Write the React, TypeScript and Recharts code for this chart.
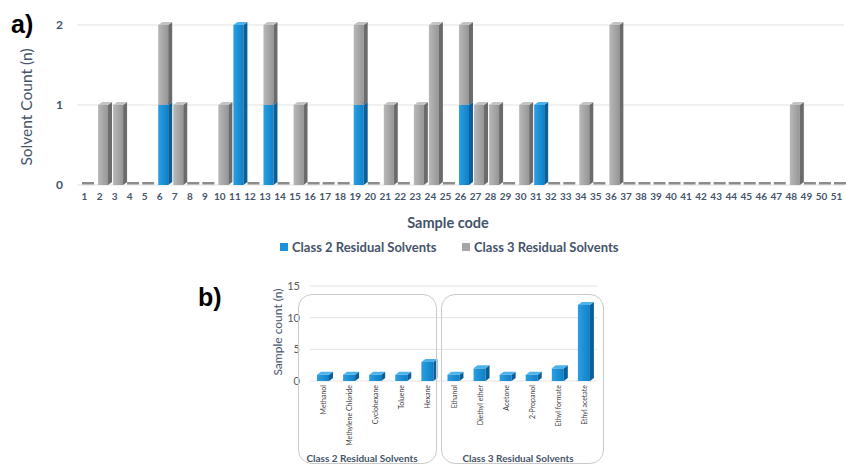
import React from 'react'
import { Bar, BarChart, CartesianGrid, XAxis, YAxis } from 'recharts'

// a) per-sample solvent counts
const sampleCodes = [
    1, 2, 3, 4, 5, 6, 7, 8, 9, 10, 11, 12, 13, 14, 15, 16, 17, 18, 19, 20, 21, 22, 23, 24, 25,
    26, 27, 28, 29, 30, 31, 32, 33, 34, 35, 36, 37, 38, 39, 40, 41, 42, 43, 44, 45, 46, 47, 48,
    49, 50, 51,
]
const class2Counts = [
    0, 0, 0, 0, 0, 1, 0, 0, 0, 0, 2, 0, 1, 0, 0, 0, 0, 0, 1, 0, 0, 0, 0, 0, 0,
    1, 0, 0, 0, 0, 1, 0, 0, 0, 0, 0, 0, 0, 0, 0, 0, 0, 0, 0, 0, 0, 0, 0,
    0, 0, 0,
]
const class3Counts = [
    0, 1, 1, 0, 0, 1, 1, 0, 0, 1, 0, 0, 1, 0, 1, 0, 0, 0, 1, 0, 1, 0, 1, 2, 0,
    1, 1, 1, 0, 1, 0, 0, 0, 1, 0, 2, 0, 0, 0, 0, 0, 0, 0, 0, 0, 0, 0, 1,
    0, 0, 0,
]
const solventTicks = [0, 1, 2]
const seriesNames = ['Class 2 Residual Solvents', 'Class 3 Residual Solvents']

// b) sample count per solvent
const solventNames = [
    'Methanol', 'Methylene Chloride', 'Cyclohexane', 'Toluene', 'Hexane',
    'Ethanol', 'Diethyl ether', 'Acetone', '2-Propanol', 'Ethyl formate', 'Ethyl acetate',
]
const solventSampleCounts = [1, 1, 1, 1, 3, 1, 2, 1, 1, 2, 12]
const countTicks = [0, 5, 10, 15]

const FONT = 'Lato, "Open Sans", sans-serif'
const SLATE = '#44546a'

const sampleData = sampleCodes.map((code, i) => ({
    code: String(code),
    class2: class2Counts[i],
    class3: class3Counts[i],
}))
const solventData = solventNames.map((name, i) => ({ name, count: solventSampleCounts[i] }))

function Bar3D(props: any) {
    const { x, y, width, height, grad, side, top, shift = 0 } = props
    if (!height || height <= 0) return null
    const d = 4
    const rise = 3
    const x0 = x + shift
    const x1 = x0 + width
    return (
        <g>
            <rect x={x0} y={y} width={width} height={height} fill={`url(#${grad})`} />
            <polygon
                points={`${x1},${y} ${x1 + d},${y - rise} ${x1 + d},${y + height - rise} ${x1},${y + height}`}
                fill={side}
            />
            <polygon
                points={`${x0},${y} ${x0 + d},${y - rise} ${x1 + d},${y - rise} ${x1},${y}`}
                fill={top}
            />
        </g>
    )
}

// empty samples still show a flat stub on the floor
function Class3Shape(props: any) {
    const { x, y, width, height, payload } = props
    if ((!height || height <= 0) && payload && payload.class2 === 0 && payload.class3 === 0) {
        return <rect x={x + 2} y={y - 3} width={width + 2} height={2.5} fill="#8c8c8c" />
    }
    return <Bar3D {...props} grad="grayFront" side="#6b6b6b" top="#c4c4c4" shift={3} />
}

function SolventTick(props: any) {
    const { x, y, payload } = props
    const ty = y - 4
    return (
        <text
            x={x}
            y={ty}
            transform={`rotate(-90 ${x} ${ty})`}
            textAnchor="end"
            dominantBaseline="central"
            fontSize={7}
            fill="#404040"
            fontFamily={FONT}
        >
            {payload.value}
        </text>
    )
}

const abs = (left: number, top: number, extra: React.CSSProperties = {}): React.CSSProperties => ({
    position: 'absolute',
    left,
    top,
    fontFamily: FONT,
    whiteSpace: 'nowrap',
    pointerEvents: 'none',
    ...extra,
})

export default function App() {
    return (
        <div style={{ position: 'absolute', left: 0, top: 0, width: 847, height: 465, background: '#fff', overflow: 'hidden' }}>
            <div style={{ position: 'absolute', left: 0, top: 0 }}>
                <BarChart width={847} height={260} data={sampleData} margin={{ top: 25, right: 3, left: 0, bottom: 30 }} barSize={10}>
                    <defs>
                        <linearGradient id="grayFront" x1="0" y1="0" x2="1" y2="0">
                            <stop offset="0%" stopColor="#b8b8b8" />
                            <stop offset="100%" stopColor="#969696" />
                        </linearGradient>
                        <linearGradient id="blueFront" x1="0" y1="0" x2="1" y2="0">
                            <stop offset="0%" stopColor="#2c9fe2" />
                            <stop offset="100%" stopColor="#0e80c8" />
                        </linearGradient>
                    </defs>
                    <CartesianGrid vertical={false} stroke="#e3e3e3" />
                    <XAxis
                        dataKey="code"
                        interval={0}
                        height={45}
                        tickLine={false}
                        axisLine={false}
                        tick={{ fontSize: 10, fontWeight: 700, fill: SLATE, fontFamily: FONT }}
                    />
                    <YAxis
                        width={77}
                        domain={[0, 2]}
                        ticks={solventTicks}
                        tickLine={false}
                        axisLine={false}
                        tickMargin={8}
                        tick={{ fontSize: 12, fontWeight: 700, fill: SLATE, fontFamily: FONT }}
                    />
                    <Bar
                        dataKey="class2"
                        name={seriesNames[0]}
                        stackId="s"
                        isAnimationActive={false}
                        shape={(p: any) => <Bar3D {...p} grad="blueFront" side="#0a5f98" top="#4cb2ec" shift={3} />}
                    />
                    <Bar
                        dataKey="class3"
                        name={seriesNames[1]}
                        stackId="s"
                        isAnimationActive={false}
                        shape={(p: any) => <Class3Shape {...p} />}
                    />
                </BarChart>
            </div>

            <div style={{ position: 'absolute', left: 0, top: 270 }}>
                <BarChart width={847} height={195} data={solventData} margin={{ top: 16, right: 250, left: 270, bottom: 0 }} barSize={12}>
                    <defs>
                        <linearGradient id="blueFront2" x1="0" y1="0" x2="1" y2="0">
                            <stop offset="0%" stopColor="#2c9fe2" />
                            <stop offset="100%" stopColor="#0e80c8" />
                        </linearGradient>
                    </defs>
                    <CartesianGrid vertical={false} stroke="#e3e3e3" />
                    <XAxis dataKey="name" interval={0} height={84} tickLine={false} axisLine={false} tick={<SolventTick />} />
                    <YAxis
                        width={40}
                        domain={[0, 15]}
                        ticks={countTicks}
                        tickLine={false}
                        axisLine={false}
                        tickMargin={4}
                        tick={{ fontSize: 11, fill: '#595959', fontFamily: FONT }}
                    />
                    <Bar
                        dataKey="count"
                        isAnimationActive={false}
                        shape={(p: any) => <Bar3D {...p} grad="blueFront2" side="#0a5f98" top="#4cb2ec" shift={0} />}
                    />
                </BarChart>
            </div>

            {/* panel labels and titles */}
            <div style={abs(11, 10, { fontSize: 25, fontWeight: 700, color: '#000', fontFamily: 'Arial, "Liberation Sans", sans-serif' })}>a)</div>
            <div style={abs(198, 283, { fontSize: 25, fontWeight: 700, color: '#000', fontFamily: 'Arial, "Liberation Sans", sans-serif' })}>b)</div>

            <div style={abs(26, 107, { fontSize: 15.5, color: SLATE, transform: 'translate(-50%, -50%) rotate(-90deg)' })}>Solvent Count (n)</div>
            <div style={abs(448, 222, { fontSize: 14.5, fontWeight: 700, color: SLATE, transform: 'translate(-50%, -50%)' })}>Sample code</div>

            {/* legend */}
            <div style={abs(280, 243, { width: 8, height: 8, background: '#1e90d9' })} />
            <div style={abs(292, 247, { fontSize: 13, fontWeight: 700, color: SLATE, transform: 'translateY(-50%)' })}>{seriesNames[0]}</div>
            <div style={abs(462, 243, { width: 8, height: 8, background: '#a6a6a6' })} />
            <div style={abs(474, 247, { fontSize: 13, fontWeight: 700, color: SLATE, transform: 'translateY(-50%)' })}>{seriesNames[1]}</div>

            <div style={abs(277, 332, { fontSize: 12, color: SLATE, transform: 'translate(-50%, -50%) rotate(-90deg)' })}>Sample count (n)</div>

            {/* solvent class groups */}
            <div style={abs(298, 294, { width: 139, height: 170, border: '1px solid #cacaca', borderRadius: 14, boxSizing: 'border-box' })} />
            <div style={abs(441, 294, { width: 163, height: 170, border: '1px solid #cacaca', borderRadius: 14, boxSizing: 'border-box' })} />
            <div style={abs(362, 458, { fontSize: 10, fontWeight: 700, color: SLATE, transform: 'translate(-50%, -50%)' })}>{seriesNames[0]}</div>
            <div style={abs(518, 458, { fontSize: 10, fontWeight: 700, color: SLATE, transform: 'translate(-50%, -50%)' })}>{seriesNames[1]}</div>
        </div>
    )
}
